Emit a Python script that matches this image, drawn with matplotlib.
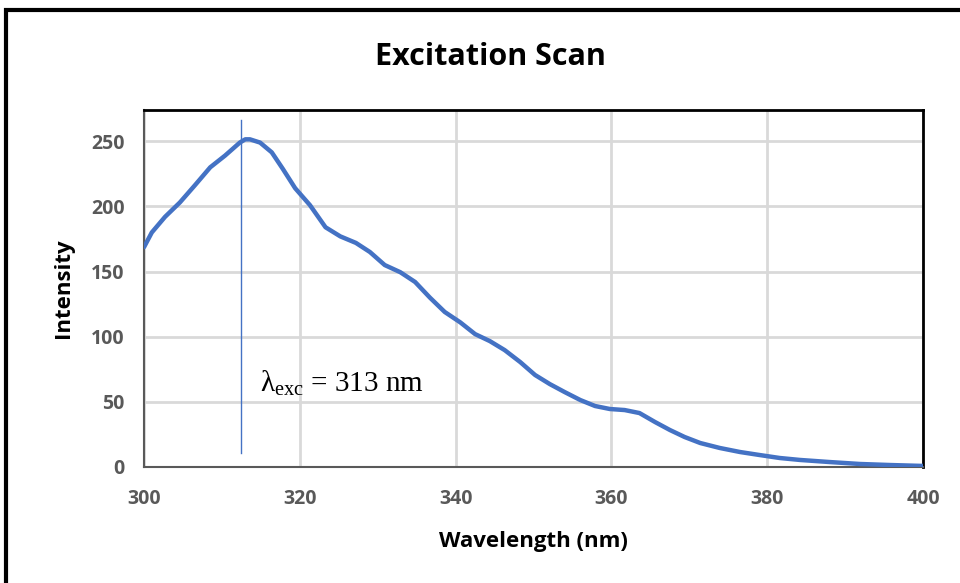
import matplotlib
matplotlib.use("Agg")
import matplotlib.pyplot as plt
from matplotlib.patches import Rectangle

# excitation spectrum
wavelength = [300, 301, 302.7, 304.6, 306.5, 308.5, 310.4, 312.3, 313, 313.6,
              314.9, 316.4, 317.8, 319.4, 321.3, 323.3, 325.2, 327.2, 329,
              330.9, 332.9, 334.8, 336.7, 338.6, 340.6, 342.5, 344.4, 346.3,
              348.3, 350.2, 352.1, 354, 356, 357.9, 359.8, 361.7, 363.6,
              365.6, 367.5, 369.4, 371.4, 373.9, 376.5, 379, 381.6, 384.2,
              388, 391.9, 395.8, 400]
intensity = [168.7, 180, 192, 203, 216, 230, 239, 249, 251.5, 251.5,
             249, 241.5, 229, 214, 201, 184, 177, 172, 165,
             155, 149.5, 142, 130, 119, 111, 102, 96.6, 89.7,
             80.5, 70.6, 63.6, 57.5, 51.4, 46.8, 44.5, 43.7, 41.4,
             34.5, 28.4, 23, 18.4, 14.6, 11.5, 9.2, 6.9, 5.4,
             3.8, 2.3, 1.5, 0.8]

marker_x = 312.45
marker_y = [10.7, 266]
x_ticks = [300, 320, 340, 360, 380, 400]
y_ticks = [0, 50, 100, 150, 200, 250]

font = "Open Sans"
tick_col = "#595959"

fig = plt.figure(figsize=(9.6, 5.83), dpi=100)
ax = fig.add_axes([0.15, 0.199, 0.8115, 0.6123])

ax.plot(wavelength, intensity, color="#4472C4", lw=3.2,
        solid_capstyle="round", solid_joinstyle="round", zorder=3)
ax.plot([marker_x, marker_x], marker_y, color="#4472C4", lw=1, zorder=3)
ax.text(314.9, 64, r"$\mathregular{λ_{exc}}$ = 313 nm", family="Liberation Serif",
        fontsize=21, va="center", ha="left")

ax.set_xlim(300, 400)
ax.set_ylim(0, 274)
ax.set_xticks(x_ticks)
ax.set_yticks(y_ticks)
ax.grid(True, color="#d9d9d9", lw=2)
ax.set_axisbelow(True)
ax.tick_params(axis="x", length=0, pad=16, labelcolor=tick_col, labelsize=14)
ax.tick_params(axis="y", length=0, pad=14, labelcolor=tick_col, labelsize=14)
for lab in ax.get_xticklabels() + ax.get_yticklabels():
    lab.set_fontfamily(font)
    lab.set_fontweight("bold")

for side in ["top", "right"]:
    ax.spines[side].set_color("black")
    ax.spines[side].set_linewidth(2)
for side in ["left", "bottom"]:
    ax.spines[side].set_color("#595959")
    ax.spines[side].set_linewidth(1.5)

ax.set_xlabel("Wavelength (nm)", family=font, fontweight="bold", fontsize=16, labelpad=16)
ax.set_ylabel("Intensity", family=font, fontweight="bold", fontsize=16, labelpad=12)
fig.text(0.511, 0.903, "Excitation Scan", family=font, fontweight="bold",
         fontsize=22, ha="center", va="center")

# outer chart frame (runs off the right and bottom edges)
fig.patches.append(Rectangle((6 / 960, -0.2), 1.2, 1.2 - 10 / 583,
                             transform=fig.transFigure, fill=False,
                             edgecolor="black", lw=3))

fig.savefig("out.png", dpi=100)
